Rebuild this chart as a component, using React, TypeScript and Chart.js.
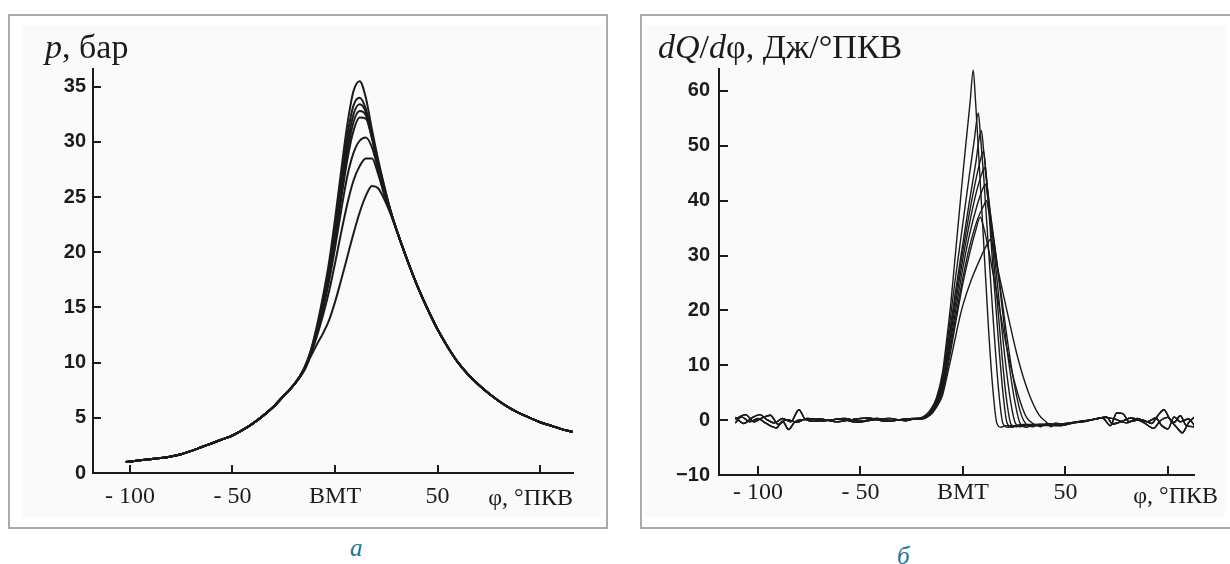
import React, { useEffect, useRef } from 'react';
import { Chart, registerables } from 'chart.js';

Chart.register(...registerables);

// ---- shared crank-angle axis ----
const angleTicks = [-100, -50, 0, 50, 100];
const angleTickLabels = ['- 100', '- 50', 'ВМТ', '50', ''];

// ---- panel а: cylinder pressure, бар ----
const pressureTicks = [0, 5, 10, 15, 20, 25, 30, 35];

const compressionAngles = [-102, -95, -90, -85, -80, -75, -70, -65, -60, -55, -50, -45, -40, -35, -30, -25, -20];
const compressionPressure = [1.0, 1.15, 1.25, 1.35, 1.5, 1.7, 2.0, 2.35, 2.7, 3.05, 3.4, 3.9, 4.5, 5.2, 6.0, 7.0, 8.0];

const combustionAngles = [-15, -12, -9, -6, -3, 0, 3, 6, 9, 12, 15, 18, 21, 24, 27, 30];
const pressureCycle1 = [9.5, 11.0, 13.2, 15.9, 19.0, 23.0, 27.4, 31.6, 34.6, 35.5, 34.0, 31.1, 28.4, 26.0, 23.8, 22.0];
const pressureCycle2 = [9.5, 10.9, 13.0, 15.6, 18.6, 22.4, 26.6, 30.6, 33.3, 34.0, 33.0, 30.7, 28.2, 25.9, 23.8, 22.0];
const pressureCycle3 = [9.5, 10.9, 12.9, 15.4, 18.3, 22.0, 26.0, 29.8, 32.5, 33.4, 32.7, 30.5, 28.0, 25.8, 23.8, 22.0];
const pressureCycle4 = [9.4, 10.8, 12.8, 15.2, 18.0, 21.5, 25.4, 29.1, 31.8, 32.8, 32.4, 30.4, 27.9, 25.7, 23.7, 22.0];
const pressureCycle5 = [9.4, 10.8, 12.7, 15.0, 17.7, 21.0, 24.8, 28.4, 31.0, 32.2, 32.1, 30.3, 27.8, 25.6, 23.7, 22.0];
const pressureCycle6 = [9.4, 10.7, 12.5, 14.7, 17.3, 20.4, 23.8, 26.9, 29.0, 30.1, 30.4, 29.5, 27.5, 25.4, 23.7, 22.0];
const pressureCycle7 = [9.3, 10.7, 12.3, 14.2, 16.4, 19.0, 21.8, 24.4, 26.5, 27.8, 28.5, 28.5, 27.1, 25.2, 23.6, 22.0];
const pressureCycle8 = [9.3, 10.5, 11.6, 12.6, 13.8, 15.5, 17.5, 19.6, 21.7, 23.6, 25.1, 26.0, 25.8, 24.8, 23.5, 22.0];

const expansionAngles = [35, 40, 45, 50, 55, 60, 65, 70, 75, 80, 85, 90, 95, 100, 105, 110, 116];
const expansionPressure = [19.4, 17.0, 14.9, 13.0, 11.4, 10.0, 8.9, 8.0, 7.2, 6.5, 5.9, 5.4, 5.0, 4.6, 4.3, 4.0, 3.7];

const pressureCycles = [
  pressureCycle1, pressureCycle2, pressureCycle3, pressureCycle4,
  pressureCycle5, pressureCycle6, pressureCycle7, pressureCycle8,
];

// ---- panel б: heat release rate, Дж/°ПКВ ----
const heatTicks = [-10, 0, 10, 20, 30, 40, 50, 60];
const heatTickLabels = ['−10', '0', '10', '20', '30', '40', '50', '60'];

// noisy baseline before ignition, [angle, value]
const baselineEarlyA = [[-111, 0.5], [-107, -0.6], [-103, 0.4], [-99, 1.0], [-96, 0.2], [-92, -0.5], [-88, 0.3], [-84, -0.3], [-80, 1.9], [-77, 0.2], [-72, -0.2], [-65, 0.0], [-58, 0.3], [-50, -0.2], [-42, 0.3], [-35, -0.1], [-28, 0.2], [-24, 0.3]];
const baselineEarlyB = [[-111, -0.5], [-108, 0.6], [-104, -0.3], [-100, 0.3], [-96, -0.6], [-91, -1.4], [-88, -0.2], [-85, -1.7], [-82, -0.3], [-78, 0.1], [-70, 0.2], [-62, -0.3], [-54, 0.1], [-46, 0.4], [-38, -0.2], [-30, 0.1], [-24, 0.2]];
const baselineEarlyC = [[-111, 0.2], [-106, 1.0], [-102, -0.3], [-98, 0.4], [-94, 0.9], [-90, -0.8], [-86, 0.1], [-81, -0.4], [-76, 0.3], [-68, -0.1], [-60, 0.2], [-52, -0.4], [-44, 0.0], [-36, 0.3], [-28, -0.1], [-24, 0.2]];

// noisy baseline after combustion, [angle, value]
const baselineLateA = [[48, -0.7], [52, -0.5], [56, -0.3], [62, 0.0], [68, 0.4], [72, -1.0], [75, 1.3], [78, 1.2], [81, -0.3], [87, 0.1], [92, -0.6], [95, 0.8], [98, 1.9], [101, 0.1], [104, -1.2], [107, -2.3], [110, -0.5], [113, 0.6]];
const baselineLateB = [[48, -1.0], [52, -0.6], [60, -0.2], [66, 0.3], [70, 0.6], [73, -0.7], [77, -0.3], [82, 0.4], [88, -0.4], [93, -1.5], [96, -0.2], [100, 0.5], [103, -0.4], [106, 0.8], [109, -1.0], [113, -1.2]];
const baselineLateC = [[48, -0.9], [55, -0.4], [63, 0.1], [69, 0.5], [74, 0.2], [80, -0.5], [85, 0.3], [90, -0.3], [94, 0.4], [97, -1.0], [100, -1.6], [103, 0.6], [106, -0.3], [110, 0.2], [113, -1.0]];

// combustion part of each cycle, [angle, value]
const heatRelease1 = [[-20, 0.5], [-16, 1.8], [-13, 4.0], [-10, 8.6], [-8, 14.5], [-6, 21.0], [-4, 29.0], [-2, 37.0], [0, 45.0], [2, 52.5], [3.5, 58.0], [5, 63.8], [6, 59.0], [7.5, 49.5], [10, 33.0], [12.5, 16.5], [14.5, 6.0], [16.5, -0.5], [18.5, -1.3], [21, -1.0]];
const heatRelease2 = [[-20, 0.4], [-16, 1.6], [-13, 3.7], [-10, 8.0], [-8, 13.2], [-6, 19.0], [-4, 25.0], [-2, 30.5], [0, 36.0], [3, 44.3], [5.5, 51.0], [7.5, 56.0], [8.5, 52.0], [10, 45.0], [12.5, 31.0], [15, 17.0], [17.5, 5.0], [19.5, -0.6], [22, -1.3], [25, -1.0]];
const heatRelease3 = [[-20, 0.3], [-16, 1.5], [-13, 3.5], [-10, 7.4], [-8, 12.0], [-6, 17.3], [-4, 22.5], [-2, 27.5], [0, 32.3], [3, 39.5], [6, 46.3], [9, 52.8], [10, 49.5], [11.5, 44.0], [14, 31.0], [17, 16.0], [19.5, 5.0], [21.5, -0.5], [24, -1.3], [27, -0.9]];
const heatRelease4 = [[-20, 0.4], [-16, 1.4], [-13, 3.3], [-10, 7.0], [-8, 11.5], [-6, 16.5], [-4, 21.5], [-2, 26.3], [0, 31.0], [3, 37.5], [6, 43.3], [8.5, 47.4], [10, 49.0], [11, 46.0], [12.5, 40.0], [15.5, 27.0], [18.5, 14.0], [21, 4.5], [23.5, -0.8], [26, -1.2], [29, -0.8]];
const heatRelease5 = [[-20, 0.3], [-16, 1.3], [-13, 3.1], [-10, 6.5], [-8, 10.8], [-6, 15.5], [-4, 20.3], [-2, 25.0], [0, 29.5], [3, 35.5], [6.5, 41.5], [9, 44.7], [10.5, 46.0], [11.5, 43.5], [13, 39.0], [16.5, 26.0], [20, 13.0], [23, 4.0], [25.5, -0.5], [28, -1.2], [31, -0.9]];
const heatRelease6 = [[-20, 0.2], [-16, 1.2], [-13, 2.9], [-10, 6.0], [-8, 10.0], [-6, 14.5], [-4, 19.0], [-2, 23.5], [0, 27.8], [3, 33.5], [7, 39.3], [9.5, 42.0], [11, 43.0], [12, 40.8], [14, 36.0], [18, 24.0], [22, 11.5], [25.5, 3.0], [28, -0.7], [31, -1.3], [34, -0.9]];
const heatRelease7 = [[-20, 0.3], [-16, 1.1], [-13, 2.7], [-10, 5.5], [-8, 9.3], [-6, 13.5], [-4, 17.8], [-2, 22.0], [0, 26.0], [3, 31.3], [7, 36.5], [10, 39.0], [11.5, 40.0], [12.5, 38.2], [15, 33.0], [19, 22.0], [23.5, 10.0], [28, 1.5], [31, -0.8], [34, -1.2], [37, -0.8]];
const heatRelease8 = [[-20, 0.2], [-16, 1.0], [-13, 2.5], [-10, 5.0], [-8, 8.5], [-6, 12.5], [-4, 16.8], [-2, 21.0], [0, 25.0], [3, 30.0], [6, 34.3], [8.5, 37.0], [9.5, 36.0], [12, 32.0], [17, 22.0], [22, 12.0], [27, 4.5], [31, 0.5], [35, -0.8], [38, -1.2], [41, -0.6]];
const heatRelease9 = [[-20, 0.3], [-16, 0.9], [-13, 2.3], [-10, 4.5], [-8, 7.6], [-6, 11.0], [-4, 14.5], [-2, 18.0], [0, 21.0], [4, 25.5], [8.5, 29.5], [12, 32.2], [13.5, 33.0], [14.5, 31.8], [17, 27.5], [22, 19.0], [27, 11.0], [32, 5.0], [37, 1.0], [40.5, -0.3], [43, -1.2], [45, -0.5]];

const heatCycles = [
  heatRelease1, heatRelease2, heatRelease3, heatRelease4, heatRelease5,
  heatRelease6, heatRelease7, heatRelease8, heatRelease9,
];
const earlyBaselines = [baselineEarlyA, baselineEarlyB, baselineEarlyC];
const lateBaselines = [baselineLateA, baselineLateB, baselineLateC];

// ---- drawing helpers ----
const INK = '#1b1b1b';

const toPoints = (xs: number[], ys: number[]) => xs.map((x, i) => ({ x, y: ys[i] }));
const pairsToPoints = (pairs: number[][]) => pairs.map(([x, y]) => ({ x, y }));

// short inward tick marks on both axes
const inwardTicks = {
  id: 'inwardTicks',
  afterDraw(chart: any, _args: any, opts: any) {
    const { ctx, chartArea, scales } = chart;
    const len = opts.length ?? 8;
    ctx.save();
    ctx.strokeStyle = INK;
    ctx.lineWidth = 2;
    ctx.beginPath();
    scales.x.ticks.forEach((t: any) => {
      const px = Math.round(scales.x.getPixelForValue(t.value));
      ctx.moveTo(px, chartArea.bottom);
      ctx.lineTo(px, chartArea.bottom - len);
    });
    scales.y.ticks.forEach((t: any) => {
      const py = Math.round(scales.y.getPixelForValue(t.value));
      ctx.moveTo(chartArea.left, py);
      ctx.lineTo(chartArea.left + len, py);
    });
    ctx.stroke();
    ctx.restore();
  },
};

type PanelSpec = {
  datasets: any[];
  xMin: number; xMax: number;
  yMin: number; yMax: number;
  yTicks: number[]; yLabels: string[];
  padTop: number; padRight: number;
  yWidth: number; xHeight: number;
  xLabelPad: number; yLabelPad: number;
  tickLen: number;
};

function buildConfig(p: PanelSpec): any {
  return {
    type: 'line',
    data: { datasets: p.datasets },
    options: {
      animation: false,
      responsive: false,
      maintainAspectRatio: false,
      events: [],
      layout: { padding: { top: p.padTop, right: p.padRight, left: 0, bottom: 0 } },
      plugins: {
        legend: { display: false },
        tooltip: { enabled: false },
        title: { display: false },
        inwardTicks: { length: p.tickLen },
      },
      elements: { point: { radius: 0 } },
      scales: {
        x: {
          type: 'linear',
          min: p.xMin,
          max: p.xMax,
          grid: { display: false, drawTicks: false },
          border: { display: true, color: INK, width: 2 },
          afterBuildTicks: (s: any) => { s.ticks = angleTicks.map((v) => ({ value: v })); },
          afterFit: (s: any) => { s.height = p.xHeight; },
          ticks: {
            autoSkip: false,
            maxRotation: 0,
            padding: p.xLabelPad,
            color: INK,
            font: { family: '"Liberation Serif", "Times New Roman", serif', size: 24 },
            callback: (v: any) => {
              const i = angleTicks.indexOf(Number(v));
              return i >= 0 ? angleTickLabels[i] : '';
            },
          },
        },
        y: {
          type: 'linear',
          min: p.yMin,
          max: p.yMax,
          grid: { display: false, drawTicks: false },
          border: { display: true, color: INK, width: 2 },
          afterBuildTicks: (s: any) => { s.ticks = p.yTicks.map((v) => ({ value: v })); },
          afterFit: (s: any) => { s.width = p.yWidth; },
          ticks: {
            autoSkip: false,
            padding: p.yLabelPad,
            color: INK,
            font: { family: '"Liberation Sans", Arial, sans-serif', size: 20, weight: 'bold' },
            callback: (v: any) => {
              const i = p.yTicks.indexOf(Number(v));
              return i >= 0 ? p.yLabels[i] : '';
            },
          },
        },
      },
    },
    plugins: [inwardTicks],
  };
}

function ChartCanvas({ left, top, width, height, spec }: { left: number; top: number; width: number; height: number; spec: () => PanelSpec }) {
  const ref = useRef<HTMLCanvasElement | null>(null);
  useEffect(() => {
    if (!ref.current) return;
    const chart = new Chart(ref.current, buildConfig(spec()));
    return () => chart.destroy();
  }, []);
  return (
    <canvas
      ref={ref}
      width={width}
      height={height}
      style={{ position: 'absolute', left, top, width, height }}
    />
  );
}

const pressureSpec = (): PanelSpec => ({
  datasets: pressureCycles.map((cycle) => ({
    data: [
      ...toPoints(compressionAngles, compressionPressure),
      ...toPoints(combustionAngles, cycle),
      ...toPoints(expansionAngles, expansionPressure),
    ],
    borderColor: INK,
    borderWidth: 2,
    cubicInterpolationMode: 'monotone',
    fill: false,
  })),
  xMin: -118, xMax: 116,
  yMin: 0, yMax: 36.6,
  yTicks: pressureTicks,
  yLabels: pressureTicks.map(String),
  padTop: 53, padRight: 33,
  yWidth: 83, xHeight: 54,
  xLabelPad: 9, yLabelPad: 7,
  tickLen: 8,
});

const heatSpec = (): PanelSpec => ({
  datasets: heatCycles.map((cycle, i) => ({
    data: [
      ...pairsToPoints(earlyBaselines[i % 3]),
      ...pairsToPoints(cycle),
      ...pairsToPoints(lateBaselines[(i + 1) % 3]),
    ],
    borderColor: INK,
    borderWidth: 1.4,
    cubicInterpolationMode: 'monotone',
    fill: false,
  })),
  xMin: -119, xMax: 112.7,
  yMin: -10, yMax: 64,
  yTicks: heatTicks,
  yLabels: heatTickLabels,
  padTop: 53, padRight: 36,
  yWidth: 77, xHeight: 52,
  xLabelPad: 3, yLabelPad: 9,
  tickLen: 9,
});

const serif = '"Liberation Serif", "Times New Roman", serif';

export default function App() {
  return (
    <div
      style={{
        position: 'fixed', left: 0, top: 0, width: 1230, height: 564,
        overflow: 'hidden', background: '#ffffff', fontFamily: serif, color: INK,
      }}
    >
      {/* panel а */}
      <div style={{ position: 'absolute', left: 8, top: 14, width: 600, height: 515, boxSizing: 'border-box', border: '2px solid #ababab' }} />
      <div style={{ position: 'absolute', left: 22, top: 25, width: 580, height: 492, background: '#fafafa' }} />
      <ChartCanvas left={10} top={16} width={596} height={511} spec={pressureSpec} />
      <span style={{ position: 'absolute', left: 45, top: 30, fontSize: 34, lineHeight: '34px', whiteSpace: 'nowrap' }}>
        <i>p</i>, бар
      </span>
      <span style={{ position: 'absolute', right: 1230 - 573, top: 485, fontSize: 24, lineHeight: '24px', whiteSpace: 'nowrap' }}>
        φ, °ПКВ
      </span>
      <span style={{ position: 'absolute', left: 350, top: 535, fontSize: 25, lineHeight: '25px', fontStyle: 'italic', color: '#1f71a1' }}>
        а
      </span>

      {/* panel б */}
      <div style={{ position: 'absolute', left: 640, top: 14, width: 610, height: 515, boxSizing: 'border-box', border: '2px solid #ababab' }} />
      <div style={{ position: 'absolute', left: 645, top: 25, width: 580, height: 492, background: '#fafafa' }} />
      <ChartCanvas left={642} top={16} width={588} height={511} spec={heatSpec} />
      <span style={{ position: 'absolute', left: 658, top: 30, fontSize: 34, lineHeight: '34px', whiteSpace: 'nowrap' }}>
        <i>dQ</i>/<i>d</i>φ, Дж/°ПКВ
      </span>
      <span style={{ position: 'absolute', right: 1230 - 1218, top: 483, fontSize: 24, lineHeight: '24px', whiteSpace: 'nowrap' }}>
        φ, °ПКВ
      </span>
      <span style={{ position: 'absolute', left: 897, top: 543, fontSize: 25, lineHeight: '25px', fontStyle: 'italic', color: '#1f71a1' }}>
        б
      </span>
    </div>
  );
}
